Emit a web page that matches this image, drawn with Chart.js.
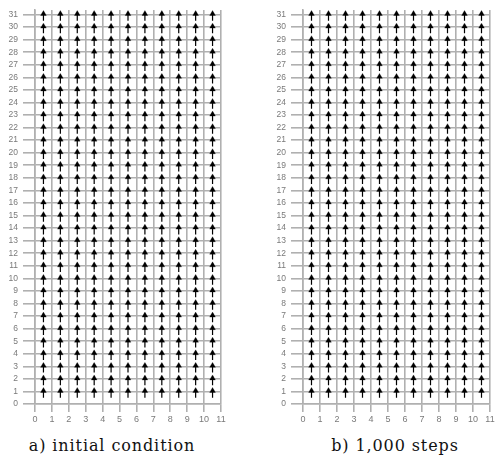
<!DOCTYPE html>
<html>
<head>
<meta charset="utf-8">
<script src="https://cdn.jsdelivr.net/npm/chart.js@4/dist/chart.umd.min.js"></script>
<style>
  html, body { margin:0; padding:0; background:#fff; }
  body { width:497px; height:470px; position:relative; overflow:hidden; }
  canvas { position:absolute; top:0; }
  #cA { left:0; }
  #cB { left:268px; }
  .cap { position:absolute; top:436px; font-family:"DejaVu Serif", serif; font-size:16px; letter-spacing:0.9px; color:#111; white-space:nowrap; transform:translateX(-50%); }
</style>
</head>
<body>
<canvas id="cA" width="230" height="430"></canvas>
<canvas id="cB" width="229" height="430"></canvas>
<div class="cap" style="left:112px">a) initial condition</div>
<div class="cap" style="left:395px">b) 1,000 steps</div>
<script>
// Grid columns (arrow x positions) and rows (arrow y positions)
const xCols = [0.5, 1.5, 2.5, 3.5, 4.5, 5.5, 6.5, 7.5, 8.5, 9.5, 10.5];
const yRows = [1, 2, 3, 4, 5, 6, 7, 8, 9, 10, 11, 12, 13, 14, 15, 16, 17, 18, 19, 20, 21, 22, 23, 24, 25, 26, 27, 28, 29, 30, 31];
// Vector components per column (all arrows point straight up)
const uInitial = [0, 0, 0, 0, 0, 0, 0, 0, 0, 0, 0];
const vInitial = [1, 1, 1, 1, 1, 1, 1, 1, 1, 1, 1];
const uSteps1000 = [0, 0, 0, 0, 0, 0, 0, 0, 0, 0, 0];
const vSteps1000 = [1, 1, 1, 1, 1, 1, 1, 1, 1, 1, 1];
// Tick labels
const xTickLabels = ['0','1','2','3','4','5','6','7','8','9','10','11'];
const yTickLabels = ['0','1','2','3','4','5','6','7','8','9','10','11','12','13','14','15','16','17','18','19','20','21','22','23','24','25','26','27','28','29','30','31'];

function makeChart(id, u, v, padRight) {
  const shafts = [];
  const heads = [];
  xCols.forEach((x, i) => {
    yRows.forEach(y => {
      shafts.push({x: x - 0.5 * u[i], y: y - 0.5 * v[i]});
      shafts.push({x: x + 0.2 * u[i], y: y + 0.2 * v[i]});
      shafts.push({x: x, y: null});
      heads.push({x: x + 0.05 * u[i], y: y + 0.05 * v[i]});
    });
  });
  const gridCol = '#b0b0b0';
  return new Chart(document.getElementById(id), {
    type: 'line',
    data: {
      datasets: [
        { data: shafts, borderColor: '#000', borderWidth: 1.2, pointRadius: 0, spanGaps: false, fill: false, order: 2 },
        { data: heads, showLine: false, pointStyle: 'triangle', pointRadius: 3.3, pointBackgroundColor: '#000', pointBorderColor: '#000', pointBorderWidth: 0.3, order: 1 }
      ]
    },
    options: {
      responsive: false,
      animation: false,
      devicePixelRatio: 1,
      layout: { padding: { top: 5, right: padRight, left: 0, bottom: 0 } },
      plugins: { legend: { display: false }, tooltip: { enabled: false } },
      scales: {
        x: {
          type: 'linear', min: 0, max: 11,
          afterBuildTicks: s => { s.ticks = xTickLabels.map(t => ({value: Number(t)})); },
          afterFit: s => { s.height = 26; },
          grid: { color: gridCol, lineWidth: 1.6, tickLength: 8 },
          border: { color: gridCol, width: 1.6 },
          ticks: { autoSkip: false, maxRotation: 0, padding: 2, color: '#7a7a7a', font: { family: 'Liberation Sans', size: 9 },
                   callback: (val) => xTickLabels[Math.round(val)] }
        },
        y: {
          type: 'linear', min: 0, max: 31.35,
          afterBuildTicks: s => { s.ticks = yTickLabels.map(t => ({value: Number(t)})); },
          afterFit: s => { s.width = 35; },
          grid: { color: gridCol, lineWidth: 1.6, tickLength: 12 },
          border: { color: gridCol, width: 1.6 },
          ticks: { autoSkip: false, padding: 5, color: '#7a7a7a', font: { family: 'Liberation Sans', size: 8.5 },
                   callback: (val) => yTickLabels[Math.round(val)] }
        }
      }
    }
  });
}
makeChart('cA', uInitial, vInitial, 9);
makeChart('cB', uSteps1000, vSteps1000, 7);
</script>
</body>
</html>
